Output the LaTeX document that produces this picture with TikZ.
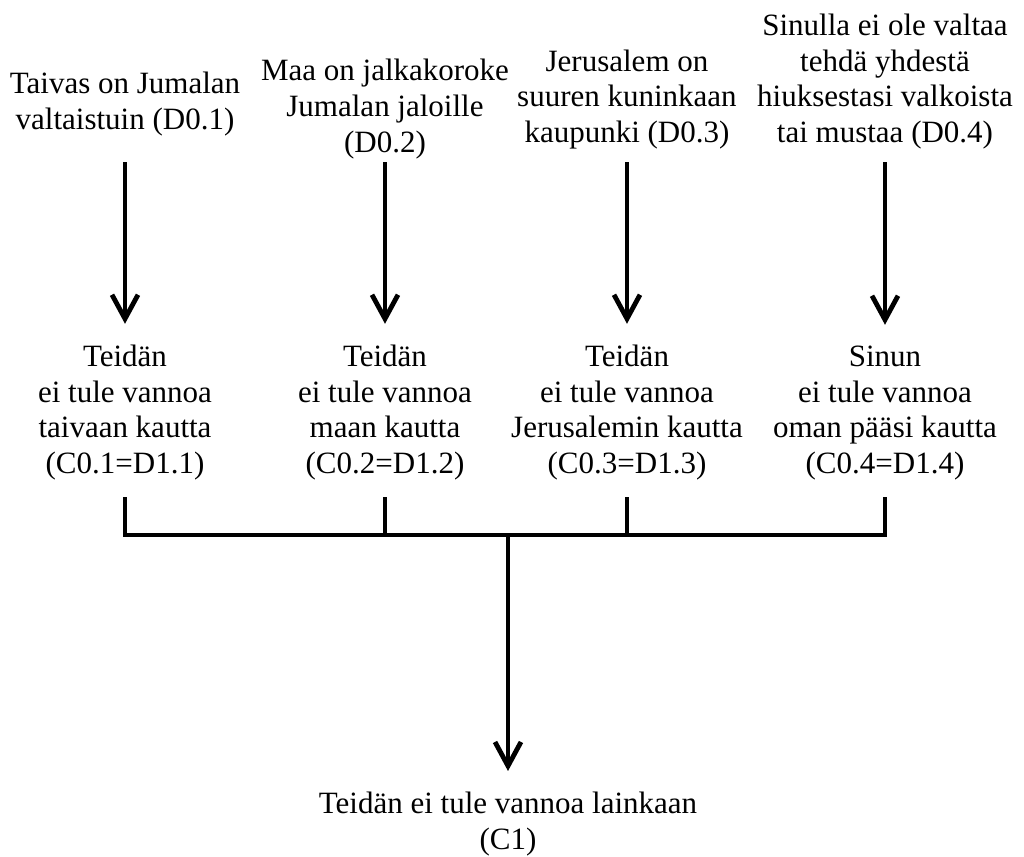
\documentclass[tikz,border=0pt]{standalone}
\usepackage{fontspec}
\setmainfont{Liberation Serif}
\usepackage{tikz}
\usetikzlibrary{arrows.meta,calc,positioning}
\tikzset{mytext/.style={inner sep=0pt,anchor=south,align=center,
		font=\fontsize{15.5pt}{17.8pt}\selectfont}}
\tikzset{myarrow/.style={line width=2.4pt,-{Straight Barb[length=12pt,width=13pt]},shorten >=10.5pt}}
\tikzset{mybar/.style={line width=2.4pt}}

\begin{document}
\begin{tikzpicture}[x=0.5pt,y=-0.5pt]
				\useasboundingbox (0,0) rectangle (1024,857);
				
				\node[mytext] (d1) at (125,136.5) {Taivas on Jumalan\\valtaistuin (D0.1)};
				\node[mytext] (d2) at (385,159) {Maa on jalkakoroke\\Jumalan jaloille\\(D0.2)};
				\node[mytext] (d3) at (627,149.5) {Jerusalem on\\suuren kuninkaan\\kaupunki (D0.3)};
				\node[mytext] (d4) at (885,149.5) {Sinulla ei ole valtaa\\tehdä yhdestä\\hiuksestasi valkoista\\tai mustaa (D0.4)};
				
				\node[mytext] (c1) at (125,480.5) {Teidän\\ei tule vannoa\\taivaan kautta\\(C0.1=D1.1)};
				\node[mytext] (c2) at (385,480.5) {Teidän\\ei tule vannoa\\maan kautta\\(C0.2=D1.2)};
				\node[mytext] (c3) at (627,480.5) {Teidän\\ei tule vannoa\\Jerusalemin kautta\\(C0.3=D1.3)};
				\node[mytext] (c4) at (885,480.5) {Sinun\\ei tule vannoa\\oman pääsi kautta\\(C0.4=D1.4)};
				
				\node[mytext] (cend) at (508,856.5) {Teidän ei tule vannoa lainkaan\\(C1)};
				
				\coordinate (atop) at (0,162);
				\coordinate (bar) at (0,535);
				
				\draw[myarrow] (d1 |- atop) -- (c1.north);
				\draw[myarrow] (d2 |- atop) -- (c2.north);
				\draw[myarrow] (d3 |- atop) -- (c3.north);
				\draw[myarrow] (d4 |- atop) -- (c4.north);
				
				\draw[mybar,shorten <=8.25pt,shorten >=8.25pt] (c1.south) -- (c1 |- bar) -- (c4 |- bar) -- (c4.south);
				\draw[mybar,shorten <=8.25pt] (c2.south) -- (c2 |- bar);
				\draw[mybar,shorten <=8.25pt] (c3.south) -- (c3 |- bar);
				\draw[myarrow] (cend |- bar) -- (cend.north);
				
\end{tikzpicture}
\end{document}
